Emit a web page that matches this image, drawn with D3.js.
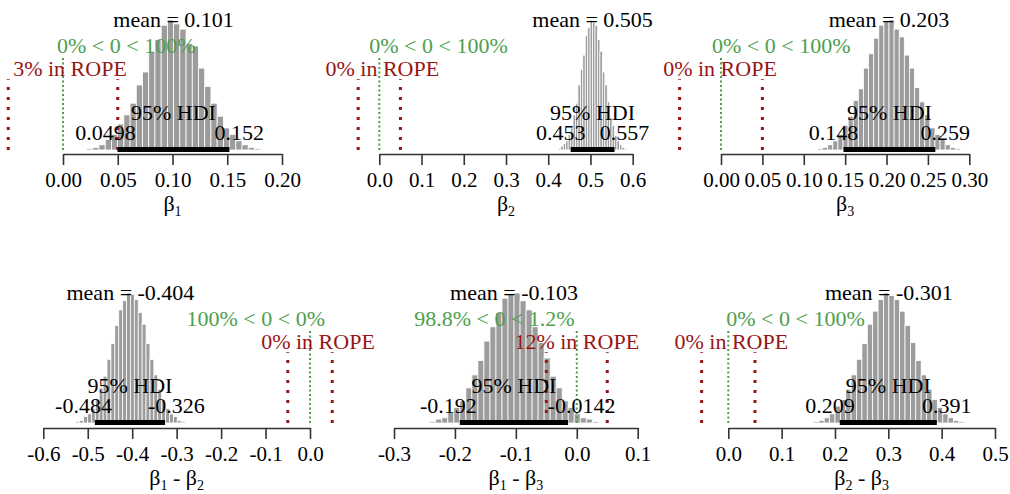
<!DOCTYPE html>
<html>
<head>
<meta charset="utf-8">
<script src="https://cdn.jsdelivr.net/npm/d3@7"></script>
<style>
  body { margin: 0; background: #fff; }
  svg text { font-family: "Liberation Serif", "Tinos", "Times New Roman", "DejaVu Serif", serif; }
</style>
</head>
<body>
<div id="chart"></div>
<script>
// Posterior summaries, one entry per panel
const axisLabels = [
    [["β", "1"]], [["β", "2"]], [["β", "3"]],
    [["β", "1"], [" - β", "2"]], [["β", "1"], [" - β", "3"]], [["β", "2"], [" - β", "3"]]
];
const meanPos = [0.101, 0.505, 0.203, -0.404, -0.103, 0.301];
const meanText = ["0.101", "0.505", "0.203", "-0.404", "-0.103", "-0.301"];
const hdiLow = [0.0498, 0.453, 0.148, -0.484, -0.192, 0.209];
const hdiHigh = [0.152, 0.557, 0.259, -0.326, -0.0142, 0.391];
const hdiLowText = ["0.0498", "0.453", "0.148", "-0.484", "-0.192", "0.209"];
const hdiHighText = ["0.152", "0.557", "0.259", "-0.326", "-0.0142", "0.391"];
const pctBelow = [0, 0, 0, 100, 98.8, 0];
const pctAbove = [100, 100, 100, 0, 1.2, 100];
const pctInRope = [3, 0, 0, 0, 12, 0];
const compVal = 0;
const rope = [-0.05, 0.05];

// Histogram bins (left edge of first bin, bin width) and bar heights (% of tallest)
const binStart = [0.0215, 0.4241, 0.1166, -0.5269, -0.2413, 0.1596];
const binWidth = [0.00568, 0.00578, 0.00617, 0.00878, 0.00988, 0.0101];
const h1 = [1, 2, 4, 8, 12, 20, 27, 36, 50, 60, 76, 85, 96, 100, 97, 93, 82, 80, 63, 49, 36, 26, 17, 12, 7, 4, 2, 1];
const h2 = [1, 3, 5, 7, 12, 17, 27, 36, 50, 62, 73, 88, 94, 100, 98, 96, 85, 76, 60, 50, 37, 25, 19, 11, 7, 4, 2, 1];
const h3 = [1, 2, 4, 7, 12, 19, 26, 38, 47, 63, 74, 86, 96, 99, 100, 93, 87, 73, 63, 48, 37, 27, 17, 12, 8, 4, 2, 1];
const h4 = [1, 2, 5, 7, 11, 18, 27, 36, 49, 61, 75, 87, 94, 100, 99, 95, 85, 76, 61, 49, 37, 26, 18, 11, 7, 5, 2, 1];
const h5 = [1, 3, 4, 8, 12, 17, 27, 37, 48, 63, 74, 85, 96, 99, 100, 94, 87, 74, 62, 50, 36, 27, 17, 12, 7, 4, 3, 1];
const h6 = [1, 2, 4, 7, 13, 18, 26, 37, 49, 61, 76, 86, 95, 100, 98, 95, 86, 75, 62, 48, 37, 26, 18, 12, 7, 4, 2, 1];
const heights = [h1, h2, h3, h4, h5, h6];

// Axis tick values
const ticks1 = [0, 0.05, 0.1, 0.15, 0.2];
const ticks2 = [0, 0.1, 0.2, 0.3, 0.4, 0.5, 0.6];
const ticks3 = [0, 0.05, 0.1, 0.15, 0.2, 0.25, 0.3];
const ticks4 = [-0.6, -0.5, -0.4, -0.3, -0.2, -0.1, 0];
const ticks5 = [-0.3, -0.2, -0.1, 0, 0.1];
const ticks6 = [0, 0.1, 0.2, 0.3, 0.4, 0.5];
const tickSets = [ticks1, ticks2, ticks3, ticks4, ticks5, ticks6];

// Panel layout on the page
const layout = [
    { x0: 63,    x1: 282,   axisY: 154, base: 150, fmt: ".2f", cvDx: -6, ropeDx: 7 },
    { x0: 379.3, x1: 632.7, axisY: 154, base: 150, fmt: ".1f", cvDx: -10, ropeDx: 3 },
    { x0: 721,   x1: 969.3, axisY: 154, base: 150, fmt: ".2f", cvDx: -9, ropeDx: -1 },
    { x0: 43.3,  x1: 310,   axisY: 428, base: 423, fmt: ".1f", cvDx: 15, ropeDx: 8 },
    { x0: 394,   x1: 637.7, axisY: 428, base: 423, fmt: ".1f", cvDx: -4, ropeDx: 0 },
    { x0: 728.3, x1: 995,   axisY: 428, base: 423, fmt: ".1f", cvDx: -2, ropeDx: 3 }
];

const width = 1010, height = 494;
const barHeightPx = 130;
const fontSize = 22;
const serif = "'Liberation Serif', 'Tinos', 'Times New Roman', 'DejaVu Serif', serif";
const green = "#4e9e4e", red = "#981515";

const svg = d3.select("#chart")
    .append("svg")
    .attr("width", width)
    .attr("height", height)
    .attr("font-family", serif);

layout.forEach((L, p) => {
    const ticks = tickSets[p];
    const x = d3.scaleLinear()
        .domain([ticks[0], ticks[ticks.length - 1]])
        .range([L.x0, L.x1]);
    const y = d3.scaleLinear()
        .domain([0, 100])
        .range([L.base, L.base - barHeightPx]);

    const g = svg.append("g");

    // histogram bars
    g.selectAll("rect.bar")
        .data(heights[p])
        .enter().append("rect")
        .attr("class", "bar")
        .attr("x", (d, i) => x(binStart[p] + i * binWidth[p]))
        .attr("width", x(binStart[p] + binWidth[p]) - x(binStart[p]))
        .attr("y", d => y(d))
        .attr("height", d => L.base - y(d))
        .attr("fill", "#9c9c9c")
        .attr("stroke", "#fff")
        .attr("stroke-width", 0.8);

    // axis
    const fmt = d3.format(L.fmt);
    const axis = g.append("g")
        .attr("transform", `translate(0,${L.axisY})`)
        .call(d3.axisBottom(x)
            .tickValues(ticks)
            .tickSize(11)
            .tickSizeOuter(0)
            .tickPadding(7)
            .tickFormat(d => fmt(d).replace("\u2212", "-")));
    axis.attr("font-family", serif).attr("font-size", 21);
    axis.selectAll("path, line").attr("stroke", "#333").attr("stroke-width", 1.6);
    axis.selectAll("text").attr("fill", "#000");

    // axis label with subscripts
    const lab = g.append("text")
        .attr("x", (L.x0 + L.x1) / 2)
        .attr("y", L.axisY + 57)
        .attr("text-anchor", "middle")
        .style("font-size", fontSize + "px");
    axisLabels[p].forEach((part, k) => {
        lab.append("tspan").attr("dy", k === 0 ? 0 : -5).text(part[0]);
        lab.append("tspan").text(part[1])
            .attr("dy", 5).style("font-size", "14px");
    });

    // mean
    g.append("text")
        .attr("x", x(meanPos[p]))
        .attr("y", y(95))
        .attr("text-anchor", "middle")
        .style("font-size", fontSize + "px")
        .text("mean = " + meanText[p]);

    // comparison value line and text
    g.append("line")
        .attr("x1", x(compVal)).attr("x2", x(compVal))
        .attr("y1", y(0)).attr("y2", y(71))
        .attr("stroke", green)
        .attr("stroke-width", 2)
        .attr("stroke-dasharray", "2,2.5");
    const cvText = g.append("text")
        .attr("y", y(74.5))
        .attr("fill", green)
        .style("font-size", fontSize + "px")
        .text(`${pctBelow[p]}% < ${compVal} < ${pctAbove[p]}%`);
    const cvW = cvText.node().getComputedTextLength();
    cvText.attr("x", x(compVal) - pctBelow[p] / 100 * cvW + L.cvDx);

    // ROPE lines and text
    g.selectAll("line.rope")
        .data(rope)
        .enter().append("line")
        .attr("class", "rope")
        .attr("x1", d => x(d)).attr("x2", d => x(d))
        .attr("y1", y(0)).attr("y2", y(54.5))
        .attr("stroke", red)
        .attr("stroke-width", 3)
        .attr("stroke-dasharray", "3,7");
    g.append("text")
        .attr("x", x(d3.mean(rope)) + L.ropeDx)
        .attr("y", y(57))
        .attr("text-anchor", "middle")
        .attr("fill", red)
        .style("font-size", fontSize + "px")
        .text(`${pctInRope[p]}% in ROPE`);

    // HDI bar and labels
    g.append("line")
        .attr("x1", x(hdiLow[p])).attr("x2", x(hdiHigh[p]))
        .attr("y1", L.base - 0.5).attr("y2", L.base - 0.5)
        .attr("stroke", "#000")
        .attr("stroke-width", 5);
    g.append("text")
        .attr("x", x((hdiLow[p] + hdiHigh[p]) / 2))
        .attr("y", y(23))
        .attr("text-anchor", "middle")
        .style("font-size", fontSize + "px")
        .text("95% HDI");
    const lo = g.append("text")
        .attr("y", y(7.7))
        .style("font-size", fontSize + "px")
        .text(hdiLowText[p]);
    lo.attr("x", x(hdiLow[p]) - 0.7 * lo.node().getComputedTextLength());
    const hi = g.append("text")
        .attr("y", y(7.7))
        .style("font-size", fontSize + "px")
        .text(hdiHighText[p]);
    hi.attr("x", x(hdiHigh[p]) - 0.3 * hi.node().getComputedTextLength());
});
</script>
</body>
</html>
